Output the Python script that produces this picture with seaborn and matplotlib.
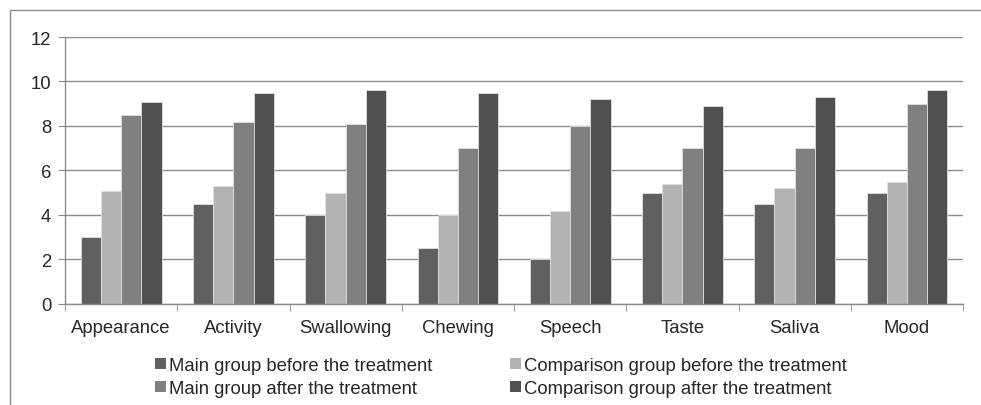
import numpy as np
import pandas as pd
import matplotlib
matplotlib.use("Agg")
import matplotlib.pyplot as plt
import seaborn as sns
from matplotlib.lines import Line2D
from matplotlib.patches import Patch

categories = ["Appearance", "Activity", "Swallowing", "Chewing",
              "Speech", "Taste", "Saliva", "Mood"]
series_names = ["Main group before the treatment",
                "Comparison group before the treatment",
                "Main group after the treatment",
                "Comparison group after the treatment"]
main_before = [3.0, 4.5, 4.0, 2.5, 2.0, 5.0, 4.5, 5.0]
comp_before = [5.1, 5.3, 5.0, 4.0, 4.2, 5.4, 5.2, 5.5]
main_after = [8.5, 8.2, 8.1, 7.0, 8.0, 7.0, 7.0, 9.0]
comp_after = [9.1, 9.5, 9.6, 9.5, 9.2, 8.9, 9.3, 9.6]
colors = ["#606060", "#b3b3b3", "#808080", "#505050"]

rows = []
for name, vals in zip(series_names, [main_before, comp_before, main_after, comp_after]):
    for c, v in zip(categories, vals):
        rows.append({"cat": c, "series": name, "value": v})
df = pd.DataFrame(rows)

sns.set_style("white")
plt.rcParams["font.family"] = ["Liberation Sans", "DejaVu Sans"]
fs = 13.3

fig = plt.figure(figsize=(9.81, 4.06), dpi=100)
ax = fig.add_axes([0.0663, 0.2488, 0.9154, 0.6576])

sns.barplot(data=df, x="cat", y="value", hue="series", order=categories,
            hue_order=series_names, palette=colors, width=0.72, gap=0,
            edgecolor="#e0e0e0", linewidth=0.6, ax=ax, legend=False,
            saturation=1)

ax.set_ylim(0, 12)
ax.set_yticks(range(0, 13, 2))
ax.set_xlim(-0.5, len(categories) - 0.5)
ax.yaxis.grid(True, color="#8c8c8c", linewidth=1)
ax.set_axisbelow(True)
ax.set_xlabel("")
ax.set_ylabel("")
for s in ["top", "right"]:
    ax.spines[s].set_visible(False)
for s in ["left", "bottom"]:
    ax.spines[s].set_color("#8c8c8c")
    ax.spines[s].set_linewidth(1)

ax.tick_params(axis="y", length=5, color="#8c8c8c", labelsize=fs, pad=5, left=True)
ax.tick_params(axis="x", length=0, labelsize=fs, pad=11)
ax.set_xticks(range(len(categories)))
ax.set_xticklabels(categories)
ax.set_xticks(np.arange(-0.5, len(categories), 1), minor=True)
ax.tick_params(axis="x", which="minor", length=5, color="#8c8c8c", bottom=True)

handles = [Patch(facecolor=colors[i], edgecolor="none") for i in range(4)]
order = [0, 2, 1, 3]
ax.legend([handles[i] for i in order], [series_names[i] for i in order],
          ncol=2, loc="upper left", bbox_to_anchor=(0.158, 0.118),
          bbox_transform=fig.transFigure, frameon=False, fontsize=fs,
          handlelength=0.6, handleheight=0.6, handletextpad=0.15,
          columnspacing=4.2, labelspacing=0.32, borderaxespad=0,
          borderpad=0)

fig.add_artist(Line2D([10 / 981, 1], [1 - 11 / 406, 1 - 11 / 406],
                      transform=fig.transFigure, color="#8c8c8c", linewidth=1))
fig.add_artist(Line2D([10 / 981, 10 / 981], [0, 1 - 11 / 406],
                      transform=fig.transFigure, color="#8c8c8c", linewidth=1))

fig.savefig("out.png", dpi=100)
